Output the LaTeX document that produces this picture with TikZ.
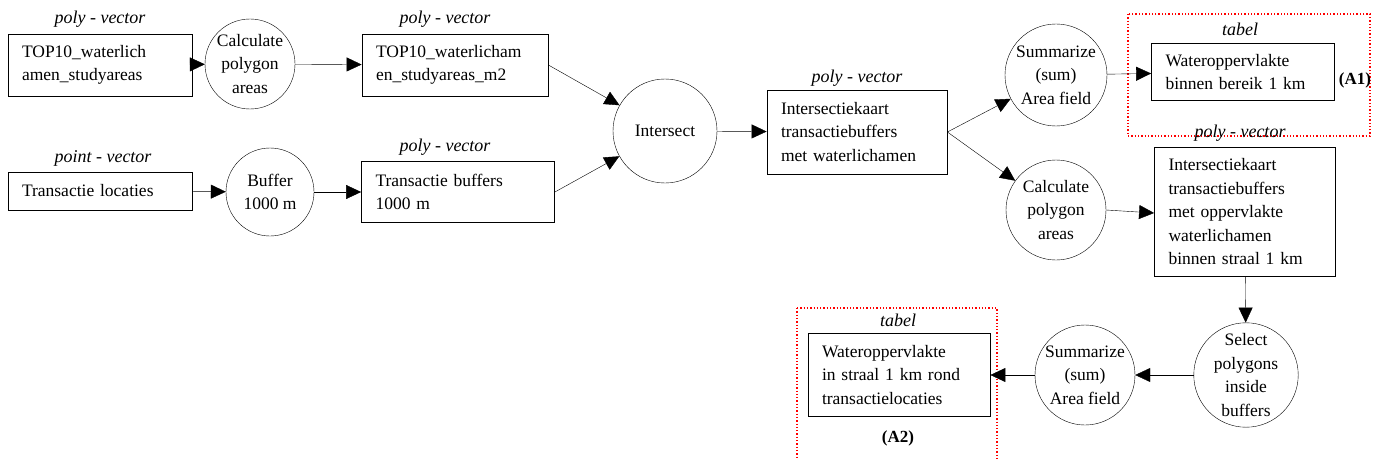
\documentclass[tikz,border=0pt]{standalone}
\usepackage{fontspec}
\setmainfont{Liberation Serif}
\usetikzlibrary{arrows.meta}

\begin{document}
\begin{tikzpicture}[x=1pt,y=-1pt,->,>={Triangle[length=15pt,width=14pt]},
		font=\fontsize{17.5}{23.5}\selectfont]
		\tikzstyle{every node}=[inner sep=0pt]
		\tikzstyle{data}=[draw,thick,rectangle,align=left,inner xsep=14pt,inner ysep=4pt,anchor=center]
		\tikzstyle{tool}=[draw,circle,align=center,inner sep=0pt]
		\tikzstyle{kind}=[font=\fontsize{18}{20}\selectfont\itshape]
		\tikzstyle{frame}=[draw=red,dotted,line width=1.3pt,-]
		
		\useasboundingbox (0,0) rectangle (1377,460);
		
		% tables
		\draw[frame] (1128,14) rectangle (1370,136);
		\draw[frame] (797,308) -- (797,460) (797,308) -- (997,308) -- (997,460);
		
		% input layers
		\node[kind] (k1) at (100,19) {poly - vector};
		\node[data,text width=156pt,minimum height=62pt] (top10) at (100,65) {TOP10\_waterlich\\amen\_studyareas};
		\node[kind] (k2) at (103,158) {point - vector};
		\node[data,text width=156pt,minimum height=38pt] (loc) at (100,191) {Transactie locaties};
		
		\node[tool,minimum size=90pt] (calc1) at (250,64) {Calculate\\polygon\\areas};
		\node[tool,minimum size=88pt] (buf) at (270,192) {Buffer\\1000 m};
		
		\node[kind] (k3) at (445,19) {poly - vector};
		\node[data,text width=158pt,minimum height=62pt] (top10m2) at (455,65) {TOP10\_waterlicham\\en\_studyareas\_m2};
		\node[kind] (k4) at (445,147) {poly - vector};
		\node[data,text width=165pt,minimum height=61pt] (tbuf) at (458,192) {Transactie buffers\\1000 m};
		
		\node[tool,minimum size=104pt] (isect) at (665,131) {Intersect};
		
		\node[kind] (k5) at (857,78) {poly - vector};
		\node[data,text width=152pt,minimum height=84pt] (ikaart) at (857,132) {Intersectiekaart\\transactiebuffers\\met waterlichamen};
		
		\node[tool,minimum size=102pt] (sum1) at (1056,75) {Summarize\\(sum)\\Area field};
		\node[tool,minimum size=100pt] (calc2) at (1056,210) {Calculate\\polygon\\areas};
		
		\node[kind] (k6) at (1240,29) {tabel};
		\node[data,text width=155pt,minimum height=57pt] (a1box) at (1243,72) {Wateroppervlakte\\binnen bereik 1 km};
		\node[font=\fontsize{17}{18}\selectfont\bfseries] (a1) at (1355,80) {(A1)};
		
		\node[kind] (k7) at (1240,133) {poly - vector};
		\node[data,text width=153pt,minimum height=129pt] (ikaart2) at (1245,212) {Intersectiekaart\\transactiebuffers\\met oppervlakte\\waterlichamen\\binnen straal 1 km};
		
		\node[tool,minimum size=104pt] (sel) at (1246,375) {Select\\polygons\\inside\\buffers};
		\node[tool,minimum size=100pt] (sum2) at (1085,375) {Summarize\\(sum)\\Area field};
		
		\node[kind] (k8) at (898,320) {tabel};
		\node[data,text width=154pt,minimum height=83pt] (a2box) at (899,375) {Wateroppervlakte\\in straal 1 km rond\\transactielocaties};
		\node[font=\fontsize{17}{18}\selectfont\bfseries] (a2) at (898,438) {(A2)};
		
		\path[->]
		(top10) edge (calc1)
		(calc1) edge (top10m2)
		(loc) edge (buf)
		(buf) edge (tbuf);
		\path[->]
		(top10m2.east) edge (isect)
		(tbuf.east) edge (isect)
		(isect) edge (ikaart);
		\path[->]
		(ikaart.east) edge (sum1)
		(ikaart.east) edge (calc2)
		(sum1) edge (a1box)
		(calc2.east) edge (ikaart2.west |- 0,213);
		\path[->]
		(ikaart2) edge (sel)
		(sel) edge (sum2)
		(sum2) edge (a2box);
\end{tikzpicture}
\end{document}
